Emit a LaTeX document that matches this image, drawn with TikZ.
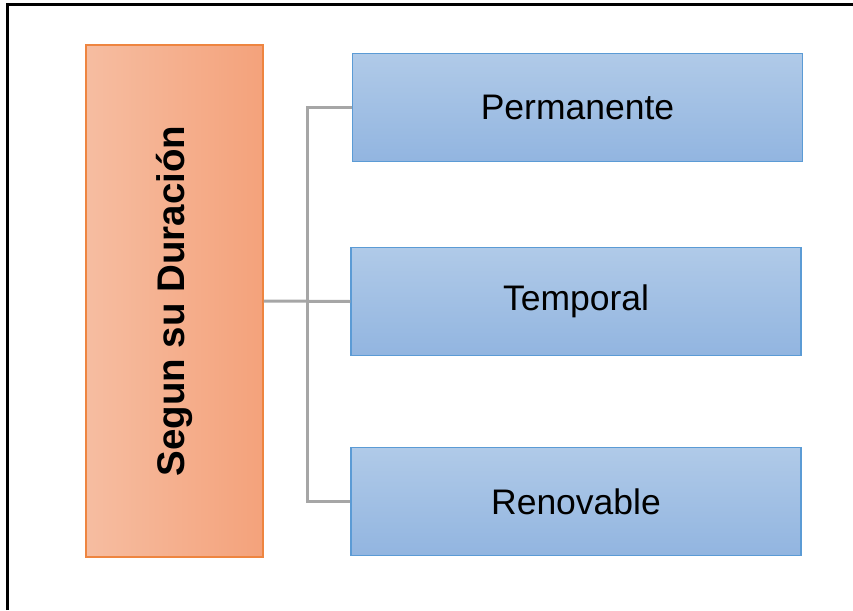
\documentclass[tikz,border=0pt]{standalone}
\usepackage{fontspec}
\usepackage{graphicx}
\setmainfont{Liberation Sans}
\definecolor{kindline}{HTML}{5B9BD5}
\definecolor{kindtop}{HTML}{B0CAE8}
\definecolor{kindbot}{HTML}{92B5E0}
\definecolor{rootline}{HTML}{EE8540}
\definecolor{rootleft}{HTML}{F6BDA1}
\definecolor{rootright}{HTML}{F4A27B}
\definecolor{linkgray}{HTML}{A6A6A6}
\begin{document}
\begin{tikzpicture}[x=1pt,y=-1pt,
    kind/.style={draw=kindline,line width=1.5pt,top color=kindtop,bottom color=kindbot,
      minimum width=450pt,minimum height=108pt,inner sep=0pt,
      font=\fontsize{35.5}{42}\selectfont},
    root/.style={draw=rootline,line width=1.5pt,left color=rootleft,right color=rootright,
      minimum width=177pt,minimum height=512pt,inner sep=0pt,
      font=\fontsize{38.5}{44}\selectfont\bfseries},
    link/.style={draw=linkgray,line width=3pt}]
    \useasboundingbox (0,0) rectangle (853,610);
    \path[draw=black,line width=3pt] (7,610) -- (7,5) -- (853,5);
    \node[root] (dur) at (174.5,301) {\rotatebox{90}{Segun su Duración}};
    \node[kind] (perm) at (577.5,107.5) {Permanente};
    \node[kind] (temp) at (576,301.5) {Temporal};
    \node[kind] (renov) at (576,501.5) {Renovable};
    \coordinate (split) at (307,301);
    \path [link](dur.east) edge (temp.west);
    \path [link](perm.west) -| (split);
    \path [link](renov.west) -| (split);
\end{tikzpicture}
\end{document}
